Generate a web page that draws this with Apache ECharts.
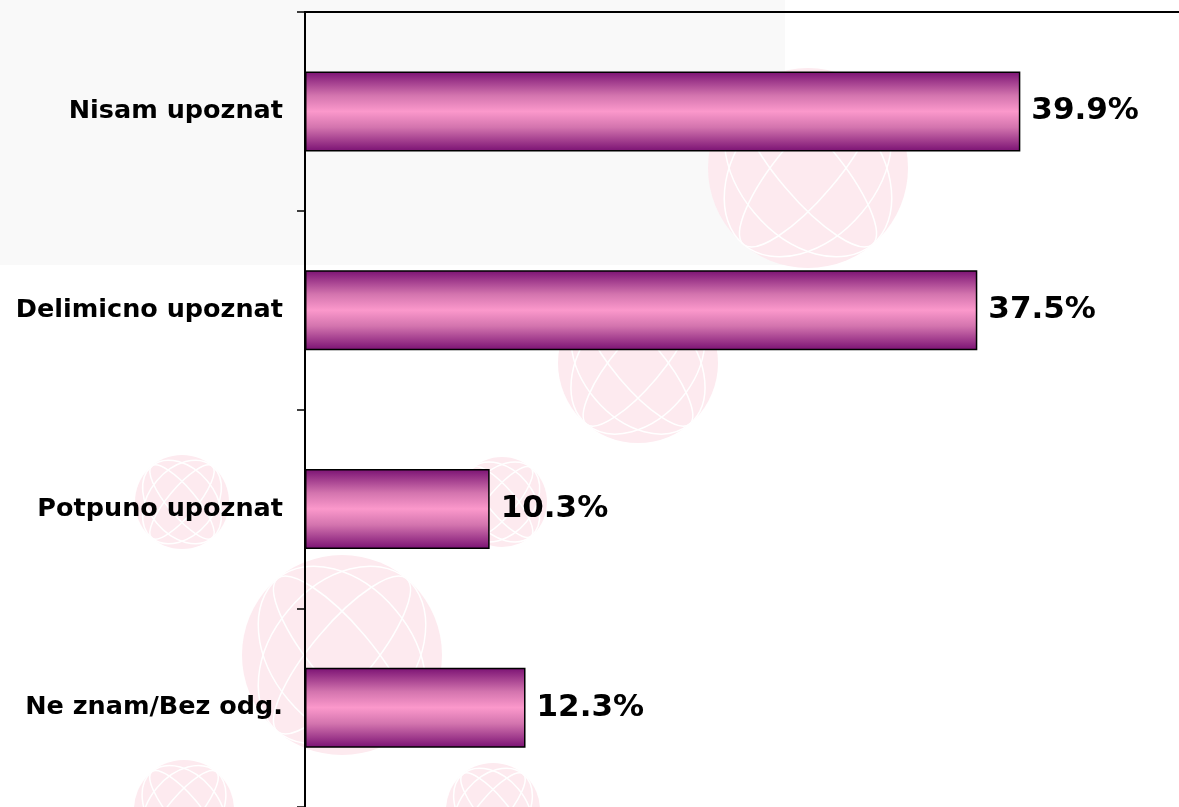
<!DOCTYPE html>
<html>
<head>
<meta charset="utf-8">
<script src="https://cdn.jsdelivr.net/npm/echarts@6/dist/echarts.min.js"></script>
<style>
  html, body { margin: 0; padding: 0; background: #fff; }
  #main { width: 1179px; height: 807px; }
</style>
</head>
<body>
<div id="main"></div>
<script>
// kategorije i procenti
var categories = ['Nisam upoznat', 'Delimicno upoznat', 'Potpuno upoznat', 'Ne znam/Bez odg.'];
var values = [39.9, 37.5, 10.3, 12.3];

// pozadinski globusi (samo dekor)
var globes = [
  [808, 168, 100], [638, 363, 80], [182, 502, 47], [502, 502, 45],
  [342, 655, 100], [184, 810, 50], [493, 810, 47]
];

function globe(cx, cy, r) {
  var kids = [{
    type: 'circle', shape: { cx: cx, cy: cy, r: r },
    style: { fill: '#fdeaef' }
  }];
  [-0.7, 0.7].forEach(function (rot) {
    [0.3, 0.7].forEach(function (k) {
      kids.push({
        type: 'ellipse', originX: cx, originY: cy, rotation: rot,
        shape: { cx: cx, cy: cy, rx: r * k, ry: r },
        style: { fill: null, stroke: '#fff', lineWidth: 1.5 }
      });
    });
  });
  return { type: 'group', z: -10, silent: true, children: kids };
}

var bg = [{
  type: 'rect', z: -20, silent: true,
  shape: { x: 0, y: 0, width: 785, height: 265 },
  style: { fill: '#f9f9f9' }
}];
globes.forEach(function (g) { bg.push(globe(g[0], g[1], g[2])); });

var chart = echarts.init(document.getElementById('main'));
var option = {
  backgroundColor: '#fff',
  animation: false,
  graphic: bg,
  grid: { left: 305, right: 0, top: 12, bottom: 0 },
  xAxis: {
    type: 'value',
    position: 'top',
    min: 0,
    max: 48.75,
    axisLine: { show: true, lineStyle: { color: '#000', width: 2 } },
    axisTick: { show: false },
    axisLabel: { show: false },
    splitLine: { show: false }
  },
  yAxis: {
    type: 'category',
    inverse: true,
    data: categories,
    axisLine: { show: true, lineStyle: { color: '#000', width: 2 } },
    axisTick: { show: true, length: 8, lineStyle: { color: '#000', width: 1.5 } },
    axisLabel: {
      margin: 22,
      color: '#000',
      fontFamily: 'DejaVu Sans',
      fontWeight: 'bold',
      fontSize: 25.5
    }
  },
  series: [{
    type: 'bar',
    data: values,
    barWidth: 80,
    itemStyle: {
      borderColor: '#000',
      borderWidth: 1.5,
      color: new echarts.graphic.LinearGradient(0, 0, 0, 1, [
        { offset: 0, color: '#7a1173' },
        { offset: 0.3, color: '#d374ae' },
        { offset: 0.5, color: '#fb98cb' },
        { offset: 0.7, color: '#d374ae' },
        { offset: 1, color: '#7a1173' }
      ])
    },
    label: {
      show: true,
      position: 'right',
      distance: 11,
      color: '#000',
      fontFamily: 'DejaVu Sans',
      fontWeight: 'bold',
      fontSize: 31,
      formatter: function (p) { return p.value.toFixed(1) + '%'; }
    }
  }]
};
chart.setOption(option);
window.onresize = chart.resize;
</script>
</body>
</html>
